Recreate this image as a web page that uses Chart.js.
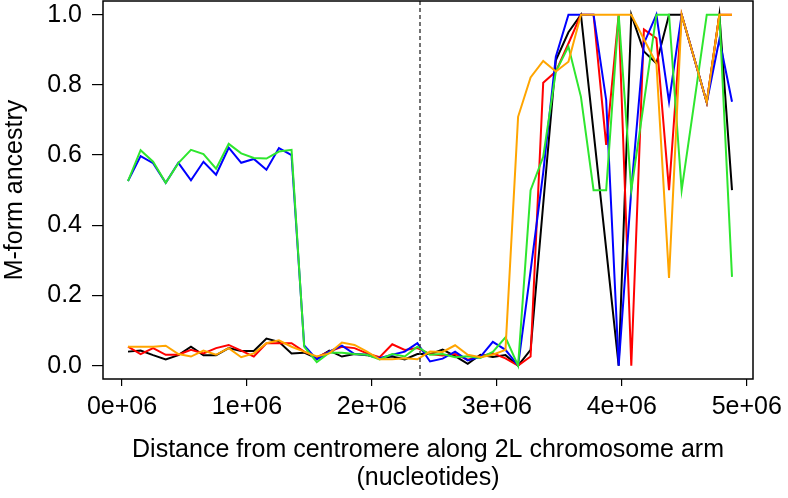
<!DOCTYPE html>
<html>
<head>
<meta charset="utf-8">
<script src="https://cdn.jsdelivr.net/npm/chart.js@4.4.1/dist/chart.umd.min.js"></script>
<style>
  html, body { margin: 0; padding: 0; background: #fff; }
</style>
</head>
<body>
<canvas id="chart" width="788" height="498"></canvas>
<script>
// window positions along the 2L arm (nucleotides)
const positions = [
  48000, 149000, 249000, 350000, 451000, 552000, 652000, 753000, 854000, 954000,
  1055000, 1156000, 1256000, 1357000, 1458000, 1559000, 1659000, 1760000, 1861000, 1961000,
  2062000, 2163000, 2263000, 2364000, 2465000, 2566000, 2666000, 2767000, 2868000, 2968000,
  3069000, 3170000, 3270000, 3371000, 3472000, 3573000, 3673000, 3774000, 3875000, 3975000,
  4076000, 4177000, 4277000, 4378000, 4479000, 4580000, 4680000, 4781000, 4882000,
];

// M-form ancestry per individual
const blackVals = [
  0.040, 0.043, 0.030, 0.018, 0.030, 0.054, 0.030, 0.030, 0.050, 0.042,
  0.042, 0.077, 0.068, 0.035, 0.037, 0.021, 0.043, 0.026, 0.033, 0.030,
  0.021, 0.026, 0.018, 0.033, 0.033, 0.046, 0.027, 0.005, 0.031, 0.025,
  0.030, 0.000, 0.045, 0.460, 0.870, 0.950, 1.000, 0.667, 0.333, 0.000,
  1.000, 0.895, 0.861, 1.000, 1.000, 0.875, 0.750, 1.000, 0.500,
];
const redVals = [
  0.054, 0.033, 0.050, 0.031, 0.031, 0.045, 0.035, 0.050, 0.059, 0.043,
  0.026, 0.064, 0.064, 0.064, 0.040, 0.024, 0.040, 0.054, 0.050, 0.035,
  0.024, 0.061, 0.045, 0.050, 0.033, 0.029, 0.033, 0.017, 0.027, 0.035,
  0.021, 0.000, 0.026, 0.806, 0.838, 0.918, 1.000, 1.000, 0.629, 1.000,
  0.000, 0.958, 0.933, 0.500, 1.000, 0.875, 0.750, 1.000, 1.000,
];
const blueVals = [
  0.526, 0.597, 0.577, 0.521, 0.578, 0.528, 0.581, 0.544, 0.621, 0.578,
  0.589, 0.558, 0.620, 0.600, 0.058, 0.018, 0.040, 0.057, 0.033, 0.031,
  0.021, 0.031, 0.040, 0.064, 0.012, 0.020, 0.040, 0.015, 0.025, 0.068,
  0.045, 0.000, 0.270, 0.550, 0.880, 1.000, 1.000, 1.000, 0.757, 0.000,
  0.500, 0.918, 1.000, 0.752, 1.000, 0.875, 0.750, 0.930, 0.752,
];
const greenVals = [
  0.526, 0.614, 0.581, 0.521, 0.577, 0.615, 0.603, 0.561, 0.632, 0.605,
  0.592, 0.590, 0.610, 0.615, 0.054, 0.010, 0.037, 0.037, 0.033, 0.031,
  0.018, 0.033, 0.026, 0.054, 0.031, 0.033, 0.024, 0.027, 0.022, 0.039,
  0.081, 0.000, 0.500, 0.595, 0.838, 0.909, 0.766, 0.500, 0.500, 1.000,
  0.500, 0.750, 1.000, 1.000, 0.500, 0.750, 1.000, 1.000, 0.253,
];
const orangeVals = [
  0.054, 0.054, 0.054, 0.057, 0.033, 0.026, 0.043, 0.031, 0.050, 0.024,
  0.035, 0.064, 0.072, 0.054, 0.040, 0.026, 0.035, 0.066, 0.059, 0.040,
  0.018, 0.018, 0.021, 0.018, 0.040, 0.039, 0.058, 0.031, 0.024, 0.031,
  0.045, 0.709, 0.821, 0.868, 0.838, 0.866, 1.000, 1.000, 1.000, 1.000,
  1.000, 0.930, 0.861, 0.250, 1.000, 0.875, 0.750, 1.000, 1.000,
];

const xTicks = [0, 1000000, 2000000, 3000000, 4000000, 5000000];
const xTickLabels = ["0e+06", "1e+06", "2e+06", "3e+06", "4e+06", "5e+06"];
const yTicks = [0, 0.2, 0.4, 0.6, 0.8, 1.0];
const yTickLabels = ["0.0", "0.2", "0.4", "0.6", "0.8", "1.0"];

const centromereCut = 2385000; // dashed marker

const FONT = { family: "'Liberation Sans', Arial, sans-serif", size: 25 };

const pts = (vals) => vals.map((v, i) => ({ x: positions[i], y: v }));
const series = (vals, color) => ({
  data: pts(vals),
  borderColor: color,
  borderWidth: 2,
  pointRadius: 0,
  tension: 0,
  fill: false,
});

// box round the plot + the dashed vertical marker
const framePlugin = {
  id: "frame",
  afterDatasetsDraw(chart) {
    const { ctx, chartArea: a, scales } = chart;
    const x = scales.x.getPixelForValue(centromereCut);
    ctx.save();
    ctx.strokeStyle = "#444";
    ctx.lineWidth = 1.5;
    ctx.setLineDash([4, 3]);
    ctx.beginPath();
    ctx.moveTo(x, a.top);
    ctx.lineTo(x, a.bottom);
    ctx.stroke();
    ctx.setLineDash([]);
    ctx.strokeStyle = "#000";
    ctx.lineWidth = 1.5;
    ctx.strokeRect(a.left, a.top, a.right - a.left, a.bottom - a.top);
    ctx.restore();
  },
};

// keep tick-label overhang from shrinking the plot box
const noOverhang = (s) => {
  s.paddingTop = 0;
  s.paddingBottom = 0;
  s.paddingLeft = 0;
  s.paddingRight = 0;
};

new Chart(document.getElementById("chart"), {
  type: "line",
  data: {
    // first dataset is painted last (on top)
    datasets: [
      series(orangeVals, "#ffa500"),
      series(greenVals, "#2ee62e"),
      series(blueVals, "#0000ff"),
      series(redVals, "#ff0000"),
      series(blackVals, "#000000"),
    ],
  },
  options: {
    responsive: false,
    animation: false,
    devicePixelRatio: 1,
    layout: { padding: { left: 0, top: 1, right: 35, bottom: 0 } },
    plugins: { legend: { display: false }, tooltip: { enabled: false } },
    scales: {
      x: {
        type: "linear",
        min: -152000,
        max: 5050000,
        afterBuildTicks: (s) => { s.ticks = xTicks.map((v) => ({ value: v })); },
        afterFit: (s) => { s.height = 119; noOverhang(s); },
        ticks: {
          callback: (v, i) => xTickLabels[i],
          color: "#000",
          font: FONT,
          padding: 6,
          maxRotation: 0,
          autoSkip: false,
        },
        grid: { drawOnChartArea: false, tickLength: 7, color: "#000", lineWidth: 1.2 },
        border: { display: false },
        title: {
          display: true,
          text: ["Distance from centromere along 2L chromosome arm", "(nucleotides)"],
          color: "#000",
          font: { ...FONT, lineHeight: 1.12 },
          padding: { top: 0, bottom: 6 },
        },
      },
      y: {
        type: "linear",
        min: -0.038,
        max: 1.039,
        afterBuildTicks: (s) => { s.ticks = yTicks.map((v) => ({ value: v })); },
        afterFit: (s) => { s.width = 103; noOverhang(s); },
        ticks: {
          callback: (v, i) => yTickLabels[i],
          color: "#000",
          font: FONT,
          padding: 10,
        },
        grid: { drawOnChartArea: false, tickLength: 11, color: "#000", lineWidth: 1.2 },
        border: { display: false },
        title: {
          display: true,
          text: "M-form ancestry",
          color: "#000",
          font: FONT,
          padding: { top: 0, bottom: 0 },
        },
      },
    },
  },
  plugins: [framePlugin],
});
</script>
</body>
</html>
